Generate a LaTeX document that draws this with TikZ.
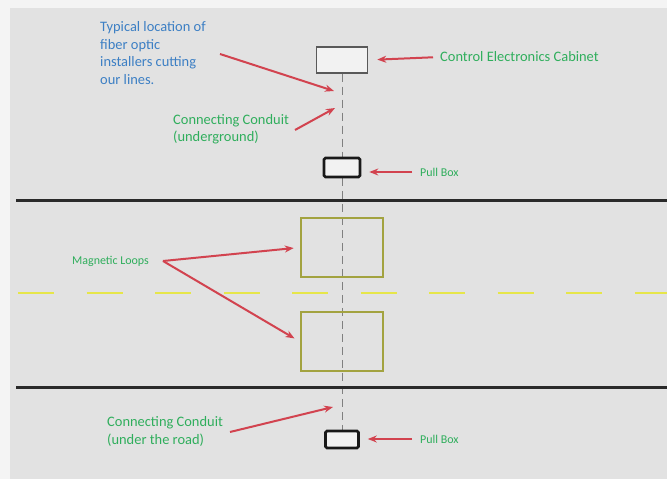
\documentclass[tikz,border=0pt]{standalone}
\usepackage{fontspec}
\setmainfont{Carlito}
\usetikzlibrary{arrows.meta}
\pgfdeclarelayer{background}
\pgfsetlayers{background,main}
\definecolor{paper}{HTML}{F4F4F4}
\definecolor{ground}{HTML}{E2E2E2}
\definecolor{notblue}{HTML}{3C7FC4}
\definecolor{labgreen}{HTML}{2FAE5C}
\definecolor{pointer}{HTML}{D2434F}
\definecolor{loopolive}{HTML}{A3A340}
\definecolor{laneyellow}{HTML}{E6E64A}
\definecolor{roadedge}{HTML}{2A2A2A}
\tikzset{
  x=1bp, y=-1bp,
  cabinetbox/.style={draw=black!65, line width=1.5bp, fill=black!5,
    minimum width=51bp, minimum height=26bp, inner sep=0pt},
  pullbox/.style={draw=black!90, line width=2.6bp, fill=black!5, rounded corners=1.5bp,
    inner sep=0pt},
  loopbox/.style={draw=loopolive, line width=2.6bp, minimum width=82bp,
    minimum height=59bp, inner sep=0pt},
  bigtext/.style={font=\fontsize{14.5}{17.5}\selectfont, align=left, inner sep=0pt, anchor=west},
  smalltext/.style={font=\fontsize{12}{14}\selectfont, inner sep=0pt, anchor=west, text=labgreen},
  pointarrow/.style={draw=pointer, line width=2bp, -{Stealth[length=9bp,width=7bp]}},
  conduit/.style={draw=black!50, line width=1bp, dash pattern=on 8bp off 5bp},
  roadline/.style={draw=roadedge, line width=3bp},
  laneline/.style={draw=laneyellow, line width=2bp, dash pattern=on 36bp off 32.5bp}
}
\begin{document}
\begin{tikzpicture}
% sheet and grey field
\begin{pgfonlayer}{background}
\fill[paper] (0,0) rectangle (667,479);
\fill[ground] (10,8) rectangle (667,479);
\end{pgfonlayer}
\useasboundingbox (0,0) rectangle (667,479);

% road edges and centre line
\draw[roadline] (16,201) -- (667,201);
\draw[roadline] (16,387) -- (667,387);
\draw[laneline] (18,293) -- (667,293);

% equipment
\node[cabinetbox] (cabinet) at (342,60) {};
\node[pullbox, minimum width=36bp, minimum height=19bp] (pull1) at (342,167.5) {};
\node[loopbox] (loop1) at (342,247.5) {};
\node[loopbox] (loop2) at (342,341.5) {};
\node[pullbox, minimum width=33bp, minimum height=17bp] (pull2) at (342,439.5) {};

% conduit run behind the boxes
\begin{pgfonlayer}{background}
\draw[conduit] (cabinet.south) -- (pull2.north);
\end{pgfonlayer}

% points on the conduit
\coordinate (cutpt) at (334,91);
\coordinate (ugpt) at (335,108);
\coordinate (roadpt) at (333,407);
\coordinate (loopsrc) at (163,261);

% labels
\node[bigtext, text=notblue] (cutnote) at (100,53)
  {Typical location of\\fiber optic\\installers cutting\\our lines.};
\node[bigtext, text=labgreen] (cablabel) at (440,57) {Control Electronics Cabinet};
\node[bigtext, text=labgreen] (uglabel) at (173,129.5) {Connecting Conduit\\(underground)};
\node[bigtext, text=labgreen] (roadlabel) at (107,431.5) {Connecting Conduit\\(under the road)};
\node[smalltext] (pull1label) at (420,172) {Pull Box};
\node[smalltext] (pull2label) at (420,439) {Pull Box};
\node[smalltext] (looplabel) at (72,261) {Magnetic Loops};

% pointers
\draw[pointarrow] (220,54) -- (cutpt);
\draw[pointarrow, shorten <=7bp, shorten >=9bp] (cablabel.west) -- (cabinet.east);
\draw[pointarrow] (295,130) -- (ugpt);
\draw[pointarrow, shorten <=8bp, shorten >=8bp] (pull1label.west) -- (pull1.east |- pull1label.west);
\draw[pointarrow, shorten >=6bp] (loopsrc) -- (loop1.west);
\draw[pointarrow, shorten >=6bp] (loopsrc) -- (loop2.west);
\draw[pointarrow] (230,432) -- (roadpt);
\draw[pointarrow, shorten <=8bp, shorten >=8bp] (pull2label.west) -- (pull2.east |- pull2label.west);
\end{tikzpicture}
\end{document}
